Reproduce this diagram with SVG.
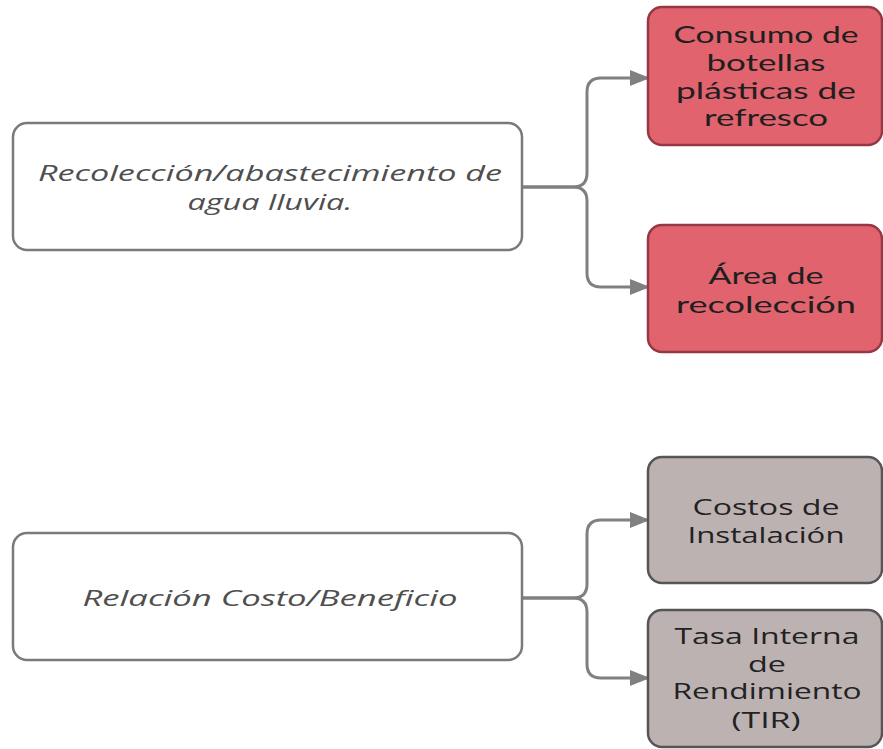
<svg xmlns="http://www.w3.org/2000/svg" width="883" height="749" viewBox="0 0 883 749">
  <defs>
    <marker id="arrow" viewBox="0 0 20 16" refX="20" refY="8" markerWidth="20" markerHeight="16" markerUnits="userSpaceOnUse" orient="auto">
      <path d="M0,0 L20,8 L0,16 Z" fill="#808080"/>
    </marker>
    <style>
      .src rect { fill: #ffffff; stroke: #7a7a7a; stroke-width: 2.5; }
      .src text { font-family: "Open Sans", "Noto Sans", sans-serif; font-style: italic; font-size: 22px; fill: #4f4f4f; text-anchor: middle; }
      .red rect { fill: #e0636e; stroke: #963843; stroke-width: 2.5; }
      .red text { font-family: Lato, "Open Sans", sans-serif; font-size: 23px; fill: #1f1f1f; text-anchor: middle; }
      .grey rect { fill: #bdb2b2; stroke: #555555; stroke-width: 2.5; }
      .grey text { font-family: "Open Sans", "Noto Sans", sans-serif; font-size: 21px; fill: #222222; text-anchor: middle; }
      .links path { fill: none; stroke: #808080; stroke-width: 3; marker-end: url(#arrow); }
    </style>
  </defs>
  <rect width="883" height="749" fill="#ffffff"/>

  <g class="links">
    <path d="M522,187 H573 Q587,187 587,173 V92 Q587,78 601,78 H650"/>
    <path d="M522,187 H573 Q587,187 587,201 V273 Q587,287 601,287 H650"/>
    <path d="M522,598 H573 Q587,598 587,584 V534 Q587,520 601,520 H650"/>
    <path d="M522,598 H573 Q587,598 587,612 V664 Q587,678 601,678 H650"/>
  </g>

  <g id="node-agua" class="src">
    <rect x="13" y="123" width="509" height="127" rx="14"/>
    <text x="270" y="181" textLength="464" lengthAdjust="spacingAndGlyphs">Recolección/abastecimiento de</text>
    <text x="270" y="210" textLength="165" lengthAdjust="spacingAndGlyphs">agua lluvia.</text>
  </g>

  <g id="node-botellas" class="red">
    <rect x="648" y="7" width="234" height="138" rx="14"/>
    <text x="766" y="43" textLength="185" lengthAdjust="spacingAndGlyphs">Consumo de</text>
    <text x="766" y="71" textLength="119" lengthAdjust="spacingAndGlyphs">botellas</text>
    <text x="766" y="99" textLength="180" lengthAdjust="spacingAndGlyphs">plásticas de</text>
    <text x="766" y="126" textLength="124" lengthAdjust="spacingAndGlyphs">refresco</text>
  </g>

  <g id="node-area" class="red">
    <rect x="648" y="225" width="234" height="127" rx="14"/>
    <text x="766" y="284" textLength="115" lengthAdjust="spacingAndGlyphs">Área de</text>
    <text x="766" y="313" textLength="180" lengthAdjust="spacingAndGlyphs">recolección</text>
  </g>

  <g id="node-costo" class="src">
    <rect x="13" y="533" width="509" height="127" rx="14"/>
    <text x="270" y="606" textLength="375" lengthAdjust="spacingAndGlyphs">Relación Costo/Beneficio</text>
  </g>

  <g id="node-instalacion" class="grey">
    <rect x="648" y="457" width="234" height="126" rx="14"/>
    <text x="766" y="515" textLength="147" lengthAdjust="spacingAndGlyphs">Costos de</text>
    <text x="766" y="543" textLength="157" lengthAdjust="spacingAndGlyphs">Instalación</text>
  </g>

  <g id="node-tir" class="grey">
    <rect x="648" y="610" width="234" height="137" rx="14"/>
    <text x="767" y="644" textLength="185" lengthAdjust="spacingAndGlyphs">Tasa Interna</text>
    <text x="767" y="672" textLength="38" lengthAdjust="spacingAndGlyphs">de</text>
    <text x="767" y="699" textLength="189" lengthAdjust="spacingAndGlyphs">Rendimiento</text>
    <text x="766" y="728" textLength="69" lengthAdjust="spacingAndGlyphs">(TIR)</text>
  </g>
</svg>
